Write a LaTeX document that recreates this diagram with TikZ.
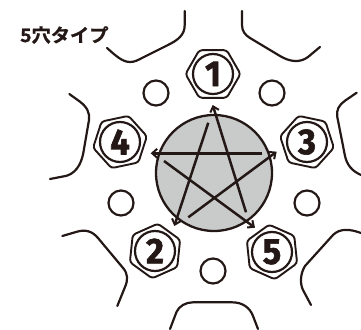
\documentclass[tikz,border=0pt]{standalone}
\usepackage{fontspec}
\newfontfamily\jpfont[FakeBold=1.2,FakeStretch=1.04]{Noto Sans CJK JP Bold}
\newfontfamily\numfont[FakeBold=1.8,FakeStretch=0.95]{Fira Sans Bold}
\usetikzlibrary{shapes.geometric,arrows.meta}
\definecolor{ink}{HTML}{231815}
\definecolor{hubgray}{HTML}{C9CACA}
\tikzset{
  wheel/.style={draw=ink,line width=2.2pt,line cap=round,line join=round},
  hexa/.style={draw=ink,line width=1.9pt,regular polygon,regular polygon sides=6,minimum size=55pt,inner sep=0pt,outer sep=0pt,rounded corners=3pt},
  boltnum/.style={draw=ink,line width=2.2pt,circle,minimum size=40pt,inner sep=0pt,outer sep=0pt,text=ink,font=\numfont\fontsize{36}{36}\selectfont},
  hole/.style={draw=ink,line width=2.2pt,circle,minimum size=25pt,inner sep=0pt,outer sep=0pt},
  hub/.style={draw=ink,line width=2.3pt,fill=hubgray,circle,minimum size=116pt,inner sep=0pt,outer sep=0pt},
  stararrow/.style={draw=ink,line width=2.5pt,-{Straight Barb[length=5pt,width=9pt,line width=2pt]}},
}
\begin{document}
\begin{tikzpicture}[x=1pt,y=-1pt]
\useasboundingbox (0,0) rectangle (361,329);
\node[hub] (hub) at (214,173) {};
\node[hole] (h1) at (156,93) {};
\node[hole] (h2) at (272,93) {};
\node[hole] (h3) at (121,203) {};
\node[hole] (h4) at (307,203) {};
\node[hole] (h5) at (213,271) {};
\node[hexa,shape border rotate=0] (x1) at (213,74) {};
\node[hexa,shape border rotate=-12] (x3) at (307,142) {};
\node[hexa,shape border rotate=12] (x4) at (120,142) {};
\node[hexa,shape border rotate=24] (x2) at (155,251) {};
\node[hexa,shape border rotate=-24] (x5) at (272,252) {};
\node[boltnum] (b1) at (213,74) {1};
\node[boltnum] (b3) at (307,142) {3};
\node[boltnum] (b4) at (120,142) {4};
\node[boltnum] (b2) at (155,251) {2};
\node[boltnum] (b5) at (272,252) {5};
\coordinate (s1) at (208.3,122.7); \coordinate (e2) at (174.3,226);
\coordinate (s2) at (188.3,217.3); \coordinate (e3) at (276.7,151.7);
\coordinate (s3) at (262.3,153.3); \coordinate (e4) at (150.7,153.3);
\coordinate (s4) at (164,161);     \coordinate (e5) at (255,227.7);
\coordinate (s5) at (246,212.3);   \coordinate (e1) at (212.7,105);
\draw[stararrow] (s1) -- (e2);
\draw[stararrow] (s2) -- (e3);
\draw[stararrow] (s3) -- (e4);
\draw[stararrow] (s4) -- (e5);
\draw[stararrow] (s5) -- (e1);
% wheel outline
\draw[wheel] (242,11) -- (242,25) .. controls (242,31) and (245,35) .. (250,38) -- (280,56) .. controls (290,62) and (300,63) .. (308,57) -- (320,47);
\draw[wheel] (107,48) .. controls (115,55) and (122,62) .. (130,62) .. controls (135,62) and (138,60) .. (142,58) -- (168,45) .. controls (178,40) and (184.7,35) .. (184.7,25) -- (184.7,11);
\draw[wheel] (356.7,92.7) -- (345,100.7) .. controls (339,105) and (336,110) .. (337.3,117) -- (345,156) .. controls (347,165) and (352,171) .. (361,175);
\draw[wheel] (69.3,94) -- (80,101.7) .. controls (87,107) and (90,113) .. (89,120) -- (83.3,153) .. controls (81,165) and (75,175) .. (63,176.5) -- (50,179);
\draw[wheel] (62.3,236) -- (76,232) .. controls (85,229) and (92,231) .. (98,238) -- (123.3,268.3) .. controls (128,274) and (128,280) .. (125,287) -- (117.3,306);
\draw[wheel] (311,305) -- (303,290) .. controls (300,284) and (300,274) .. (305,266) -- (333,235) .. controls (340,228) and (350,229) .. (361,233);
\draw[wheel] (170,329) -- (176.5,312) .. controls (179,306) and (186,302.3) .. (193,302.3) -- (232,302.3) .. controls (243,302.3) and (250,308) .. (253,316) -- (258,329);
\node[anchor=west,inner sep=0pt,text=ink,font=\jpfont\fontsize{18.5}{18.5}\selectfont] (title) at (20,35) {5穴タイプ};
\end{tikzpicture}
\end{document}
